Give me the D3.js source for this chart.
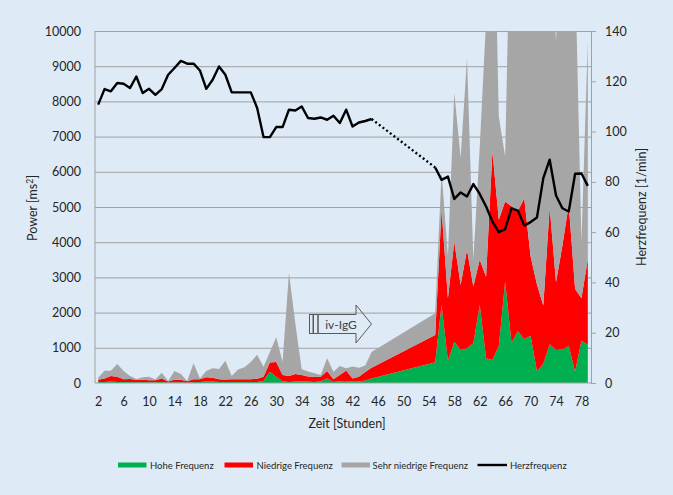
<!DOCTYPE html>
<html><head><meta charset="utf-8">
<script src="https://cdn.jsdelivr.net/npm/d3@7"></script>
<style>
body{margin:0;background:#DEEBF7}
text{font-family:Lato,"Open Sans",sans-serif}
</style>
</head><body>
<svg id="c" width="673" height="495"></svg>
<script>
// ---- data ----
const hours = [2,3,4,5,6,7,8,9,10,11,12,13,14,15,16,17,18,19,20,21,22,23,24,25,26,27,28,29,30,31,32,33,34,35,36,37,38,39,40,41,42,43,44,45,
  55,56,57,58,59,60,61,62,63,64,65,66,67,68,69,70,71,72,73,74,75,76,77,78,79];
const hf = [30,30,40,30,30,30,20,30,20,20,30,10,20,20,10,30,30,40,40,30,30,30,30,30,30,30,60,320,180,50,30,40,50,40,30,50,130,30,50,60,40,40,70,130,
  590,2220,625,1175,940,985,1130,2220,700,655,1050,2880,1140,1470,1240,1340,340,550,1100,940,950,1050,320,1210,1090];
const lf = [60,100,160,150,75,85,70,60,60,60,100,30,70,70,40,80,80,120,110,80,70,80,80,80,80,90,120,260,420,180,170,215,180,145,150,130,210,80,180,295,90,140,240,300,
  775,2700,1785,2840,1845,2795,1610,1280,2320,5920,3585,2275,3880,3410,4010,2260,2460,1650,3890,1920,2950,4020,2350,1200,2430];
const vlf = [60,220,150,360,235,85,25,70,100,20,160,20,250,165,10,450,20,180,270,290,530,90,270,340,490,680,280,300,700,375,2935,1445,160,145,95,50,360,210,250,65,340,250,190,450,
  615,1080,1190,4235,3615,5470,760,3200,7280,9425,2935,1280,9980,9120,7750,8400,10200,10300,9010,6840,10100,8930,9180,1590,6230];
const hr = [110.7,116.9,116.0,119.3,119.0,117.3,121.9,115.3,117.0,114.6,116.9,122.6,125.3,128.1,127.0,127.0,124.3,117.0,120.6,125.9,122.6,115.6,115.6,115.6,115.6,109.4,97.8,97.8,101.8,101.8,108.7,108.4,110.0,105.4,105.1,105.6,104.7,106.3,103.4,108.7,102.0,103.6,104.2,105.0,
  85.7,80.8,82.1,73.2,75.8,74.2,79.1,75.2,70.2,64.2,60.0,61.2,69.5,68.6,62.6,64.0,65.8,81.5,88.8,74.6,69.5,68.2,83.2,83.3,78.4];
const xTicks = [2,6,10,14,18,22,26,30,34,38,42,46,50,54,58,62,66,70,74,78];
const yLeftTicks = [0,1000,2000,3000,4000,5000,6000,7000,8000,9000,10000];
const yRightTicks = [0,20,40,60,80,100,120,140];
const seriesNames = ["Hohe Frequenz","Niedrige Frequenz","Sehr niedrige Frequenz","Herzfrequenz"];
const colors = {hf:"#00B050", lf:"#FF0000", vlf:"#A6A6A6", hr:"#000000"};

// ---- layout ----
const L=95, R=591, T=31, B=383;
const svg = d3.select("#c");
svg.append("rect").attr("width",673).attr("height",495).attr("fill","#DEEBF7");

const x = d3.scaleLinear().domain([1.5,79.5]).range([L,R]);
const y = d3.scaleLinear().domain([0,10000]).range([B,T]);
const y2 = d3.scaleLinear().domain([0,140]).range([B,T]);
const txt = "#262626", axisCol = "#A0A0A0";

// gridlines
svg.append("g").attr("transform",`translate(${L},0)`)
  .call(d3.axisLeft(y).tickValues(yLeftTicks.slice(1)).tickSize(-(R-L)).tickFormat(""))
  .call(g=>g.select(".domain").remove())
  .call(g=>g.selectAll("line").attr("stroke",axisCol).attr("stroke-width",1));

// clip
svg.append("clipPath").attr("id","clip").append("rect")
  .attr("x",L).attr("y",T).attr("width",R-L).attr("height",B-T);

// stacked areas
const rows = hours.map((h,i)=>({h, hf:hf[i], lf:lf[i], vlf:vlf[i]}));
const stack = d3.stack().keys(["hf","lf","vlf"])(rows);
const area = d3.area().x(d=>x(d.data.h)).y0(d=>y(d[0])).y1(d=>y(d[1]));
svg.append("g").attr("clip-path","url(#clip)")
  .selectAll("path").data(stack).join("path")
  .attr("d",area).attr("fill",d=>colors[d.key]);

// axes
svg.append("line").attr("x1",L).attr("x2",L).attr("y1",T).attr("y2",B).attr("stroke",axisCol);
svg.append("line").attr("x1",L).attr("x2",R).attr("y1",B).attr("y2",B).attr("stroke",axisCol);

svg.append("g").attr("transform",`translate(${L},0)`)
  .call(d3.axisLeft(y).tickValues(yLeftTicks).tickSize(0).tickPadding(14).tickFormat(d3.format("d")))
  .call(g=>g.select(".domain").remove())
  .call(g=>g.selectAll("text").attr("fill",txt).style("font-size","12.5px").style("font-family","Lato"));

svg.append("g").attr("transform",`translate(${R},0)`)
  .call(d3.axisRight(y2).tickValues(yRightTicks).tickSize(5).tickSizeOuter(0).tickPadding(9))
  .call(g=>g.select(".domain").attr("stroke",axisCol))
  .call(g=>g.selectAll("line").attr("stroke",axisCol))
  .call(g=>g.selectAll("text").attr("fill",txt).style("font-size","12.5px").style("font-family","Lato"));

svg.append("g").attr("transform",`translate(0,${B})`)
  .call(d3.axisBottom(x).tickValues(xTicks).tickSize(0).tickPadding(14))
  .call(g=>g.select(".domain").remove())
  .call(g=>g.selectAll("text").attr("fill",txt).style("font-size","12.5px").style("font-family","Lato"));

// heart rate
const hrRows = hours.map((h,i)=>({h, v:hr[i]}));
const seg1 = hrRows.filter(d=>d.h<=45), seg2 = hrRows.filter(d=>d.h>=55);
const line = d3.line().x(d=>x(d.h)).y(d=>y2(d.v));
[seg1,seg2].forEach(s=>svg.append("path").attr("d",line(s)).attr("fill","none")
  .attr("stroke","#000").attr("stroke-width",2.4).attr("stroke-linejoin","round"));
svg.append("path").attr("d",line([seg1[seg1.length-1],seg2[0]])).attr("fill","none")
  .attr("stroke","#000").attr("stroke-width",2.4).attr("stroke-dasharray","2,2.6");

// iv-IgG annotation
const ann = svg.append("g").attr("fill","none").attr("stroke","#595959").attr("stroke-width",1);
ann.append("rect").attr("x",309.5).attr("y",314.5).attr("width",3.5).attr("height",19);
ann.append("rect").attr("x",313.5).attr("y",314.5).attr("width",4.5).attr("height",19);
ann.append("path").attr("d","M318,314.5 H356 V305 L371.5,324 L356,343 V333.5 H318 Z");
svg.append("text").attr("x",341).attr("y",329).attr("text-anchor","middle")
  .attr("fill","#404040").style("font-size","12px").text("iv-IgG");

// axis titles
svg.append("text").attr("x",347).attr("y",428).attr("text-anchor","middle")
  .attr("fill",txt).style("font-size","12.5px").text("Zeit [Stunden]");
const yt = svg.append("text").attr("transform","translate(37,208) rotate(-90)").attr("text-anchor","middle")
  .attr("fill",txt).style("font-size","12.5px");
yt.append("tspan").text("Power [ms");
yt.append("tspan").attr("dy",-4).style("font-size","8.5px").text("2");
yt.append("tspan").attr("dy",4).text("]");
svg.append("text").attr("transform","translate(646,207) rotate(-90)").attr("text-anchor","middle")
  .attr("fill",txt).style("font-size","12.5px").text("Herzfrequenz [1/min]");

// legend
const leg = [
  {k:"hf", x:118, tx:150},
  {k:"lf", x:224.5, tx:256.5},
  {k:"vlf", x:341.5, tx:372.5},
  {k:"hr", x:477.5, tx:510}
];
leg.forEach((d,i)=>{
  if(d.k==="hr"){
    svg.append("line").attr("x1",d.x).attr("x2",d.x+29.5).attr("y1",465).attr("y2",465)
      .attr("stroke","#000").attr("stroke-width",2.4);
  } else {
    svg.append("rect").attr("x",d.x).attr("y",462.5).attr("width",28.5).attr("height",5).attr("fill",colors[d.k]);
  }
  svg.append("text").attr("x",d.tx).attr("y",468.5).attr("fill",txt).style("font-size","9.5px").text(seriesNames[i]);
});
</script>
</body></html>
